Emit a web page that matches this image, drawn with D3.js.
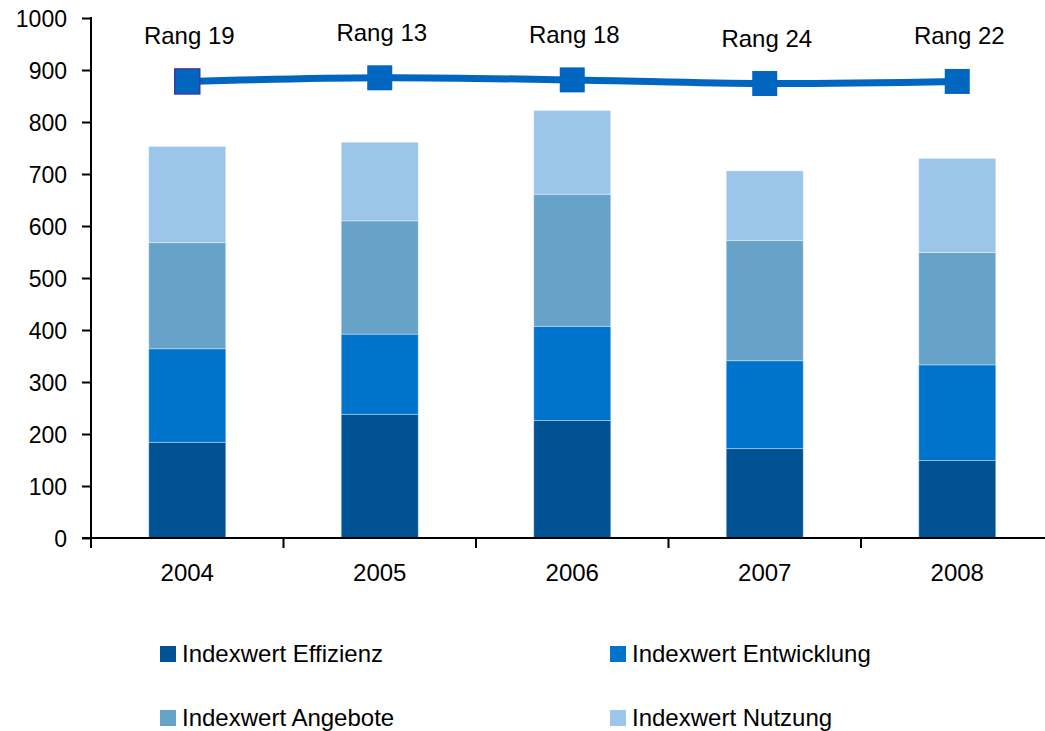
<!DOCTYPE html>
<html>
<head>
<meta charset="utf-8">
<script src="https://cdn.jsdelivr.net/npm/d3@7"></script>
<style>
  html, body { margin: 0; padding: 0; background: #fff; }
  svg { display: block; font-family: "Liberation Sans", Arial, Helvetica, sans-serif; }
</style>
</head>
<body>
<svg id="chart" width="1045" height="731"></svg>
<script>
// Jahre und Indexwerte je Teilbereich
const years = ["2004", "2005", "2006", "2007", "2008"];
const effizienz   = [184, 238, 226, 172, 149];
const entwicklung = [180, 154, 181, 169, 184];
const angebote    = [204, 218, 254, 231, 216];
const nutzung     = [185, 151, 161, 134, 181];
// Gesamtindex (Linie) und Rang je Jahr
const gesamt = [878, 885, 881, 874, 878];
const rang = ["Rang 19", "Rang 13", "Rang 18", "Rang 24", "Rang 22"];
const yTicks = [0, 100, 200, 300, 400, 500, 600, 700, 800, 900, 1000];

const seriesNames = ["Indexwert Effizienz", "Indexwert Entwicklung", "Indexwert Angebote", "Indexwert Nutzung"];
const seriesValues = [effizienz, entwicklung, angebote, nutzung];
const colors = ["#005293", "#0073CC", "#67A2C9", "#9BC6EA"];

const svg = d3.select("#chart");
const plotLeft = 91, plotRight = 1053.5, plotTop = 18, plotBottom = 538;

const x = d3.scaleBand().domain(years).range([plotLeft, plotRight]).padding(0);
const y = d3.scaleLinear().domain([0, 1000]).range([plotBottom, plotTop]);
const barW = x.bandwidth() * 0.4;

// Stapel-Daten
const rows = years.map((yr, i) => {
  const r = { year: yr };
  seriesNames.forEach((s, k) => r[s] = seriesValues[k][i]);
  return r;
});
const stack = d3.stack().keys(seriesNames)(rows);

const bars = svg.append("g");
stack.forEach((layer, k) => {
  bars.selectAll(null)
    .data(layer)
    .join("rect")
    .attr("x", d => x(d.data.year) + (x.bandwidth() - barW) / 2)
    .attr("y", d => y(d[1]))
    .attr("width", barW)
    .attr("height", d => y(d[0]) - y(d[1]))
    .attr("fill", colors[k])
    .attr("stroke", "rgba(255,255,255,0.35)")
    .attr("stroke-width", 1);
});

// Achsen
const yAxis = d3.axisLeft(y).tickValues(yTicks).tickSize(9).tickPadding(15).tickFormat(d3.format("d"));
const gy = svg.append("g").attr("transform", `translate(${plotLeft},0)`).call(yAxis);
gy.select(".domain").remove();
gy.selectAll(".tick line").attr("stroke", "#000").attr("stroke-width", 2);
gy.selectAll(".tick text").attr("fill", "#000").style("font-size", "23px").attr("dy", "0.35em");

svg.append("line")
  .attr("x1", plotLeft).attr("x2", plotLeft)
  .attr("y1", y(1000) - 1).attr("y2", plotBottom + 10)
  .attr("stroke", "#000").attr("stroke-width", 2);

svg.append("line")
  .attr("x1", plotLeft - 9).attr("x2", plotRight)
  .attr("y1", plotBottom).attr("y2", plotBottom)
  .attr("stroke", "#000").attr("stroke-width", 2);

// Trennstriche zwischen den Jahren
const bounds = years.map(d => x(d)).concat([plotRight]);
svg.append("g").selectAll("line")
  .data(bounds)
  .join("line")
  .attr("x1", d => d).attr("x2", d => d)
  .attr("y1", plotBottom).attr("y2", plotBottom + 10)
  .attr("stroke", "#000").attr("stroke-width", 2);

const xAxis = d3.axisBottom(x).tickSize(0).tickPadding(26);
const gx = svg.append("g").attr("transform", `translate(0,${plotBottom})`).call(xAxis);
gx.select(".domain").remove();
gx.selectAll(".tick text").attr("fill", "#000").style("font-size", "24px");

// Gesamtindex-Linie
const cx = d => x(d) + x.bandwidth() / 2;
const line = d3.line()
  .x((d, i) => cx(years[i]))
  .y(d => y(d))
  .curve(d3.curveCatmullRom.alpha(0.5));
svg.append("path")
  .datum(gesamt)
  .attr("d", line)
  .attr("fill", "none")
  .attr("stroke", "#0066C0")
  .attr("stroke-width", 7);

const ms = 25;
svg.append("g").selectAll("rect")
  .data(gesamt)
  .join("rect")
  .attr("x", (d, i) => cx(years[i]) - ms / 2)
  .attr("y", d => y(d) - ms / 2)
  .attr("width", ms).attr("height", ms)
  .attr("fill", "#0066C0")
  .attr("stroke", (d, i) => i === 0 ? "#3A3A9A" : "none")
  .attr("stroke-width", 1.5);

// Rang-Beschriftungen
svg.append("g").selectAll("text")
  .data(gesamt)
  .join("text")
  .attr("x", (d, i) => cx(years[i]) + 2)
  .attr("y", d => y(d) - 37)
  .attr("text-anchor", "middle")
  .style("font-size", "24px")
  .attr("fill", "#000")
  .text((d, i) => rang[i]);

// Legende
const legendPos = [[160, 654], [610, 654], [160, 718], [610, 718]];
const lg = svg.append("g").selectAll("g")
  .data(seriesNames)
  .join("g")
  .attr("transform", (d, i) => `translate(${legendPos[i][0]},${legendPos[i][1]})`);
lg.append("rect")
  .attr("x", 0).attr("y", -8).attr("width", 16).attr("height", 16)
  .attr("fill", (d, i) => colors[i]);
lg.append("text")
  .attr("x", 22).attr("y", 0).attr("dy", "0.35em")
  .style("font-size", "24px")
  .attr("fill", "#000")
  .text(d => d);
</script>
</body>
</html>
